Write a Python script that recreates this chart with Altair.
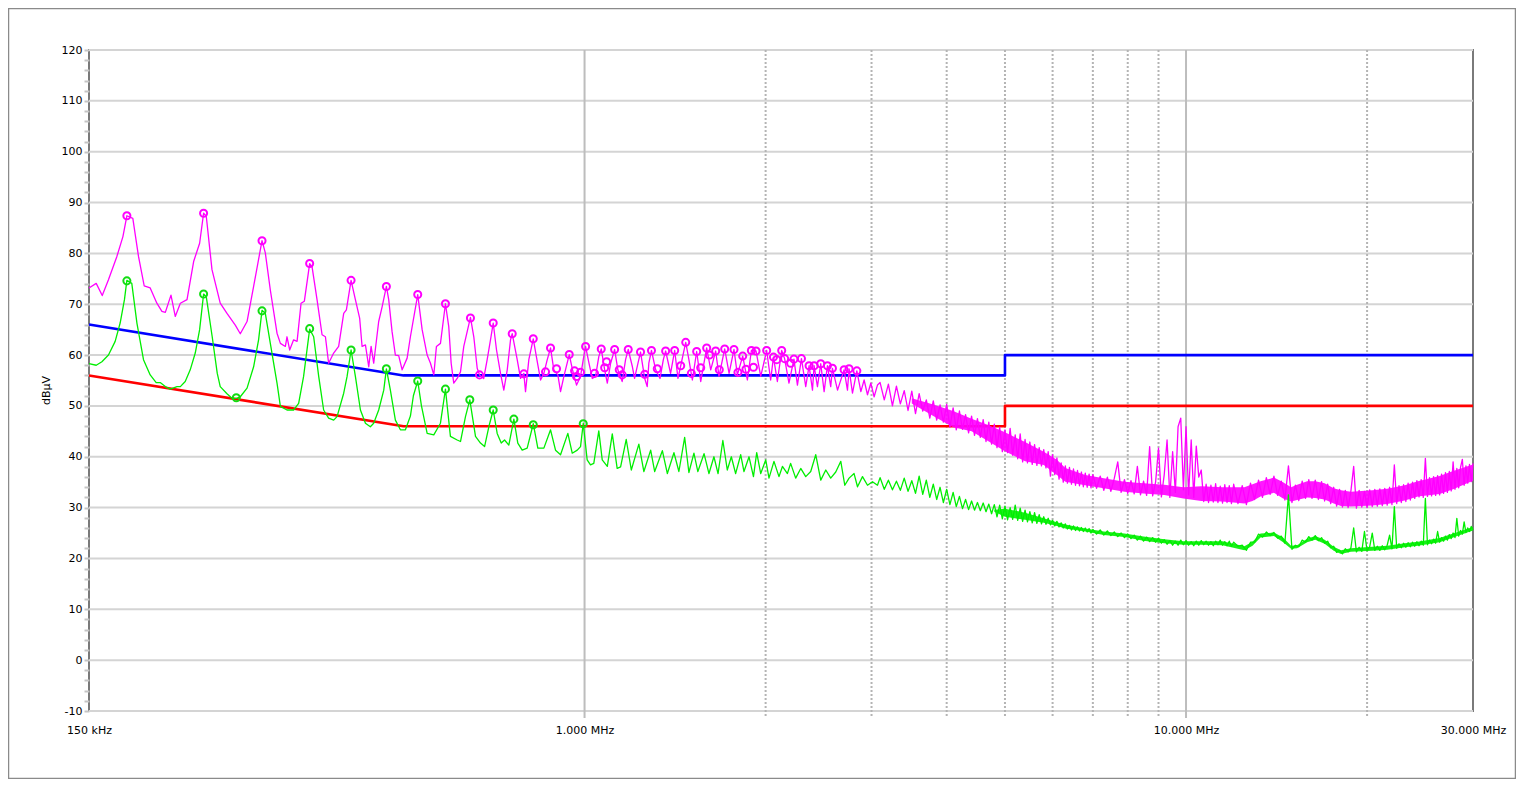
import altair as alt
import pandas as pd

# ---------------- data ----------------
# peak (magenta) trace, 150 kHz .. 3.1 MHz, frequency in MHz
pk_lo_f = [0.150, 0.1542, 0.1578, 0.1616, 0.1669, 0.1708, 0.1734, 0.1774, 0.1813, 0.1853,
           0.1896, 0.1945, 0.1983, 0.2009, 0.2053, 0.2087, 0.2128, 0.2183, 0.2239, 0.2291,
           0.2326, 0.2350, 0.2402, 0.2479, 0.2544, 0.2626, 0.2677, 0.2747, 0.2817, 0.2909,
           0.2946, 0.3003, 0.3081, 0.3121, 0.3181, 0.3201, 0.3234, 0.3283, 0.3327, 0.3378,
           0.3421, 0.3491, 0.3523, 0.3591, 0.3661, 0.3708, 0.3754, 0.3827, 0.3901, 0.3977,
           0.4018, 0.4091, 0.4159, 0.4228, 0.4267, 0.4322, 0.4377, 0.4417, 0.4461, 0.4547,
           0.4607, 0.4683, 0.4725, 0.4786, 0.4847, 0.4909, 0.4974, 0.5070, 0.5134, 0.5280,
           0.5370, 0.5474, 0.5544, 0.5615, 0.5672, 0.5760, 0.5871, 0.5946, 0.6001, 0.6061,
           0.6141, 0.6219, 0.6298, 0.6461, 0.6544, 0.6630, 0.6689, 0.6798, 0.6888, 0.6976,
           0.7049, 0.7139, 0.7249, 0.7341, 0.7438, 0.7532, 0.7581, 0.7727, 0.7826, 0.7926,
           0.7977, 0.8079, 0.8217, 0.8344, 0.8450, 0.8558, 0.8669, 0.8779, 0.8890, 0.9028,
           0.9122, 0.9239, 0.9431, 0.9550, 0.9698, 0.9847, 0.9950, 1.004, 1.017, 1.030,
           1.043, 1.056, 1.066, 1.080, 1.091, 1.105, 1.122, 1.136, 1.155, 1.170,
           1.182, 1.201, 1.211, 1.227, 1.239, 1.259, 1.271, 1.279, 1.292, 1.313,
           1.335, 1.352, 1.364, 1.390, 1.412, 1.430, 1.445, 1.473, 1.491, 1.511,
           1.536, 1.560, 1.596, 1.621, 1.652, 1.673, 1.710, 1.739, 1.772, 1.795,
           1.832, 1.865, 1.894, 1.928, 1.963, 2.008, 2.039, 2.061, 2.092, 2.127,
           2.151, 2.187, 2.229, 2.259, 2.294, 2.332, 2.362, 2.393, 2.408, 2.439,
           2.470, 2.502, 2.534, 2.566, 2.583, 2.634, 2.701, 2.736, 2.753, 2.789,
           2.836, 2.880, 2.916, 2.954, 2.992, 3.030, 3.069]
pk_lo_v = [73.2, 74.1, 71.7, 74.8, 79.4, 83.3, 87.4, 86.9, 79.4, 73.6,
           73.2, 70.2, 68.6, 68.4, 71.8, 67.6, 70.2, 70.9, 78.4, 82.0,
           87.9, 87.3, 76.8, 70.2, 68.2, 65.9, 64.2, 66.6, 73.5, 82.5,
           80.1, 72.8, 64.3, 62.3, 61.7, 63.6, 61.0, 63.0, 62.7, 70.2,
           70.6, 78.0, 77.4, 70.9, 64.0, 63.6, 58.4, 60.4, 61.7, 68.2,
           68.9, 74.7, 70.9, 67.2, 61.7, 62.0, 57.7, 61.7, 58.4, 66.6,
           69.5, 73.5, 70.9, 64.6, 60.0, 59.9, 57.1, 59.4, 63.6, 71.9,
           65.0, 60.0, 58.4, 56.1, 61.7, 62.3, 70.1, 65.6, 58.4, 54.5,
           55.4, 56.7, 61.7, 67.4, 63.6, 57.4, 56.1, 55.4, 59.1, 63.0,
           66.3, 61.0, 56.4, 53.1, 57.1, 63.0, 64.2, 59.1, 55.4, 56.4,
           52.8, 59.1, 63.2, 58.7, 55.1, 56.4, 59.1, 61.4, 57.1, 56.1,
           52.8, 55.8, 60.1, 57.1, 54.1, 55.8, 59.1, 61.7, 58.4, 55.4,
           55.8, 59.7, 61.2, 57.1, 54.5, 58.4, 61.1, 57.1, 54.8, 59.1,
           61.1, 57.7, 55.4, 58.4, 60.6, 55.4, 53.8, 58.4, 60.9, 57.1,
           55.4, 59.1, 60.8, 56.4, 60.9, 55.4, 57.9, 62.5, 59.1, 55.1,
           60.7, 54.8, 61.4, 57.1, 60.8, 55.8, 61.2, 56.4, 61.1, 56.1,
           59.8, 55.1, 60.9, 60.8, 55.8, 60.9, 55.1, 59.6, 54.8, 60.9,
           59.3, 54.5, 59.2, 54.1, 59.3, 53.8, 57.9, 53.1, 57.9, 53.8,
           58.3, 52.8, 57.9, 53.8, 57.4, 53.1, 57.1, 53.1, 57.3, 52.5,
           56.9, 52.8, 55.1, 52.2, 54.5, 51.8, 54.1]

# average (green) trace, 150 kHz .. 3.1 MHz
av_lo_f = [0.150, 0.1542, 0.1576, 0.1616, 0.1658, 0.1690, 0.1718, 0.1734, 0.1767, 0.1802,
           0.1848, 0.1896, 0.1940, 0.1970, 0.2009, 0.2047, 0.2101, 0.2128, 0.2168, 0.2210,
           0.2253, 0.2291, 0.2326, 0.2350, 0.2404, 0.2451, 0.2479, 0.2544, 0.2593, 0.2636,
           0.2677, 0.2747, 0.2817, 0.2871, 0.2909, 0.2946, 0.3003, 0.3081, 0.3121, 0.3201,
           0.3283, 0.3347, 0.3411, 0.3491, 0.3545, 0.3614, 0.3683, 0.3754, 0.3827, 0.3877,
           0.3977, 0.4029, 0.4091, 0.4159, 0.4240, 0.4322, 0.4404, 0.4461, 0.4547, 0.4636,
           0.4683, 0.4755, 0.4847, 0.4941, 0.5037, 0.5134, 0.5193, 0.5280, 0.5356, 0.5474,
           0.5615, 0.5760, 0.5871, 0.5984, 0.6141, 0.6219, 0.6339, 0.6445, 0.6587, 0.6714,
           0.6820, 0.6932, 0.7049, 0.7157, 0.7269, 0.7362, 0.7483, 0.7629, 0.7745, 0.7876,
           0.8028, 0.8217, 0.8362, 0.8558, 0.8779, 0.8948, 0.9122, 0.9380, 0.9539, 0.9725,
           0.9847, 0.9950, 1.010, 1.023, 1.036, 1.056, 1.070, 1.091, 1.112, 1.133,
           1.148, 1.173, 1.196, 1.231, 1.255, 1.288, 1.308, 1.347, 1.373, 1.408,
           1.435, 1.467, 1.491, 1.520, 1.543, 1.580, 1.610, 1.641, 1.667, 1.698,
           1.727, 1.754, 1.783, 1.818, 1.841, 1.877, 1.909, 1.933, 1.963, 2.001,
           2.026, 2.065, 2.105, 2.133, 2.174, 2.201, 2.244, 2.288, 2.332, 2.377,
           2.423, 2.470, 2.518, 2.566, 2.616, 2.667, 2.708, 2.753, 2.806, 2.843,
           2.898, 2.954, 3.011, 3.069]
av_lo_v = [58.3, 58.0, 58.7, 60.0, 62.7, 66.3, 70.9, 74.7, 74.1, 66.3,
           59.1, 56.1, 54.6, 54.6, 53.8, 53.3, 53.8, 53.8, 54.8, 57.1,
           60.4, 65.0, 72.0, 71.5, 63.6, 56.4, 53.8, 52.4, 51.5, 51.5,
           51.8, 53.5, 57.7, 63.0, 68.8, 68.2, 62.3, 54.5, 49.9, 49.2,
           49.2, 50.5, 55.8, 65.1, 63.6, 55.8, 49.2, 47.6, 47.2, 47.9,
           52.5, 55.8, 61.0, 55.8, 49.2, 46.6, 45.9, 46.6, 49.2, 53.1,
           57.3, 53.1, 47.2, 45.3, 45.3, 48.0, 52.0, 54.9, 50.0, 44.6,
           44.3, 46.6, 53.3, 44.0, 43.3, 43.0, 47.9, 51.2, 44.0, 42.7,
           42.0, 45.9, 49.2, 44.6, 42.7, 43.3, 42.3, 47.4, 42.7, 41.3,
           41.7, 46.5, 41.7, 41.7, 45.3, 41.3, 40.4, 44.6, 40.7, 41.3,
           42.0, 46.6, 39.4, 38.4, 38.7, 45.1, 39.4, 38.1, 44.5, 37.7,
           38.0, 43.4, 37.4, 42.5, 37.1, 41.3, 37.1, 41.2, 36.7, 40.8,
           37.1, 43.8, 36.9, 40.7, 37.1, 40.6, 36.7, 40.0, 36.7, 43.2,
           37.4, 40.0, 36.7, 40.4, 37.1, 40.0, 36.1, 40.8, 36.7, 39.4,
           35.8, 39.1, 36.1, 38.1, 36.7, 38.7, 35.8, 37.7, 36.1, 37.1,
           40.4, 35.4, 37.4, 35.8, 37.0, 39.1, 34.4, 35.8, 36.7, 34.1,
           36.1, 34.4, 35.1, 34.4]

# common sweep points 3.1 .. 30 MHz for both traces
hi_f = [3.10, 3.15, 3.20, 3.25, 3.30, 3.35, 3.40, 3.45, 3.50, 3.55,
        3.60, 3.65, 3.70, 3.75, 3.80, 3.85, 3.90, 3.95, 4.00, 4.05,
        4.10, 4.15, 4.20, 4.25, 4.30, 4.35, 4.40, 4.45, 4.50, 4.55,
        4.60, 4.65, 4.70, 4.75, 4.80, 4.85, 4.90, 4.95, 5.00, 5.05,
        5.10, 5.15, 5.20, 5.25, 5.30, 5.35, 5.40, 5.45, 5.50, 5.55,
        5.60, 5.65, 5.70, 5.75, 5.80, 5.85, 5.90, 5.95, 6.00, 6.05,
        6.10, 6.15, 6.20, 6.25, 6.30, 6.35, 6.40, 6.45, 6.50, 6.55,
        6.60, 6.65, 6.70, 6.75, 6.80, 6.85, 6.90, 6.95, 7.00,
        7.1, 7.2, 7.3, 7.4, 7.5, 7.6, 7.7, 7.8, 7.9, 8.0,
        8.1, 8.2, 8.3, 8.4, 8.5, 8.6, 8.7, 8.8, 8.9, 9.0,
        9.1, 9.2, 9.3, 9.4, 9.5, 9.6, 9.7, 9.8, 9.9, 10.0,
        10.1, 10.2, 10.3, 10.4, 10.5, 10.6, 10.7, 10.8, 10.9, 11.0,
        11.1, 11.2, 11.3, 11.4, 11.5, 11.6, 11.7, 11.8, 11.9, 12.0,
        12.2, 12.4, 12.6, 12.8, 13.0, 13.2, 13.4, 13.6, 13.8, 14.0,
        14.2, 14.4, 14.6, 14.8, 15.0, 15.2, 15.4, 15.6, 15.8, 16.0,
        16.2, 16.4, 16.6, 16.8, 17.0, 17.2, 17.4, 17.6, 17.8, 18.0,
        18.2, 18.4, 18.6, 18.8, 19.0, 19.2, 19.4, 19.6, 19.8, 20.0,
        20.2, 20.4, 20.6, 20.8, 21.0, 21.2, 21.4, 21.6, 21.8, 22.0,
        22.2, 22.4, 22.6, 22.8, 23.0, 23.2, 23.4, 23.6, 23.8, 24.0,
        24.2, 24.4, 24.6, 24.8, 25.0, 25.2, 25.4, 25.6, 25.8, 26.0,
        26.2, 26.4, 26.6, 26.8, 27.0, 27.2, 27.4, 27.6, 27.8, 28.0,
        28.2, 28.4, 28.6, 28.8, 29.0, 29.2, 29.4, 29.6, 29.8, 30.0]
pk_hi_v = [54.6, 51.2, 54.3, 50.0, 53.9, 50.4, 53.0, 49.1, 52.9, 48.5,
           52.4, 49.0, 51.2, 47.6, 51.0, 47.2, 50.2, 46.8, 50.3, 45.8,
           49.6, 45.3, 49.0, 45.4, 48.3, 44.7, 48.0, 44.2, 47.5, 43.8,
           47.3, 43.0, 46.8, 42.5, 46.4, 41.8, 45.8, 41.0, 45.3, 40.8,
           45.6, 40.3, 44.3, 39.6, 44.5, 39.0, 43.4, 38.8, 42.9, 38.5,
           42.4, 38.3, 41.8, 38.2, 41.4, 37.8, 41.0, 36.2, 40.4, 36.5,
           39.8, 35.6, 38.8, 35.0, 38.2, 34.8, 37.9, 34.6, 37.6, 34.4,
           37.3, 34.3, 37.0, 34.1, 36.8, 34.0, 36.6, 33.9, 36.5,
           33.8, 36.2, 33.4, 36.0, 33.2, 35.8, 39.0, 33.0, 35.5, 32.8,
           35.3, 32.7, 38.1, 32.5, 35.2, 32.4, 42.0, 32.3, 35.0, 41.7,
           32.1, 36.5, 43.3, 32.0, 41.0, 33.0, 45.9, 47.6, 33.5, 45.9,
           32.5, 43.3, 32.0, 42.1, 36.0, 37.4, 31.2, 34.6, 31.0, 34.4,
           31.1, 34.7, 31.0, 34.2, 30.9, 34.5, 31.0, 34.3, 30.8, 34.6,
           30.8, 34.3, 30.6, 34.8, 31.6, 35.4, 32.0, 35.9, 32.6, 36.2,
           32.4, 35.2, 31.5, 38.2, 31.0, 34.4, 31.4, 35.2, 31.8, 35.5,
           31.8, 35.4, 31.6, 35.1, 31.3, 34.6, 30.8, 34.0, 30.3, 33.6,
           30.1, 33.4, 30.0, 33.3, 38.1, 29.9, 33.4, 30.1, 33.2, 30.0,
           33.5, 30.2, 33.6, 30.3, 33.7, 30.4, 33.8, 30.5, 34.0, 30.6,
           38.4, 30.8, 34.3, 31.0, 34.5, 31.2, 34.8, 31.5, 35.0, 31.8,
           35.3, 32.1, 35.5, 32.0, 39.7, 32.2, 35.9, 32.3, 36.1, 32.4,
           36.3, 32.5, 36.6, 32.8, 36.9, 33.0, 37.1, 33.3, 39.0, 33.6,
           37.7, 33.9, 37.9, 39.5, 34.4, 38.2, 34.8, 38.5, 35.1, 38.7]
av_hi_v = [35.9, 33.6, 35.4, 33.5, 35.2, 33.4, 35.8, 33.2, 35.3, 32.8,
           36.2, 32.6, 35.4, 32.0, 34.6, 31.6, 34.0, 31.0, 33.6, 30.6,
           33.0, 30.2, 32.2, 29.8, 31.6, 29.6, 31.3, 29.5, 31.0, 29.4,
           30.9, 29.2, 30.7, 28.8, 30.6, 28.2, 30.5, 27.8, 30.3, 27.6,
           30.0, 27.7, 30.5, 27.5, 29.9, 27.3, 29.5, 27.2, 29.2, 27.0,
           29.0, 26.9, 28.6, 26.8, 28.2, 26.7, 27.9, 26.6, 27.5, 26.4,
           27.3, 26.2, 27.0, 26.0, 26.8, 25.8, 26.5, 25.6, 26.4, 25.5,
           26.2, 25.4, 26.1, 25.3, 26.0, 25.2, 25.9, 25.0, 25.7,
           24.8, 25.6, 24.6, 25.4, 24.5, 25.2, 24.3, 25.0, 24.1, 24.8,
           23.9, 24.6, 23.6, 24.4, 23.4, 24.2, 23.3, 24.1, 23.2, 24.0,
           23.0, 23.7, 22.8, 23.5, 22.6, 23.4, 22.6, 23.6, 22.7, 23.5,
           22.6, 23.3, 22.5, 23.4, 22.6, 23.5, 22.7, 23.4, 22.6, 23.3,
           22.5, 23.4, 22.7, 23.6, 22.6, 23.3, 22.5, 23.4, 22.4, 23.2,
           22.4, 22.6, 21.6, 23.2, 23.2, 24.8, 24.2, 25.2, 24.5, 25.1,
           24.0, 24.4, 23.0, 32.5, 21.8, 22.6, 22.3, 23.6, 23.2, 24.3,
           23.6, 24.5, 23.5, 24.1, 23.0, 23.4, 22.1, 22.4, 21.2, 21.6,
           20.9, 21.9, 21.3, 22.1, 26.0, 21.3, 22.2, 21.4, 25.3, 21.5,
           22.3, 25.0, 21.6, 22.4, 21.6, 22.5, 21.7, 22.6, 24.6, 21.9,
           30.2, 22.0, 22.9, 22.1, 23.0, 22.2, 23.1, 22.3, 23.2, 22.4,
           23.3, 22.5, 23.4, 22.6, 31.8, 22.7, 23.6, 22.9, 23.8, 23.0,
           25.3, 23.2, 24.1, 23.4, 24.4, 23.6, 24.7, 23.9, 25.0, 24.1,
           27.9, 24.4, 25.5, 24.8, 27.2, 25.1, 26.0, 25.3, 26.3, 25.6]

# dense-noise bands (extent of the solid-looking trace band)
pk_band_f = [3.5, 3.8, 4.1, 4.4, 4.7, 5.0, 5.4, 5.8, 6.1, 6.3,
             6.8, 7.3, 7.9, 8.5, 9.2, 9.9, 10.6, 11.5, 12.5, 12.9,
             13.3, 14.0, 14.5, 14.95, 15.3, 15.9, 16.4, 17.0, 17.6, 18.1,
             18.8, 20.4, 21.6, 23.1, 24.3, 26.4, 27.8, 30.0]
pk_band_top = [51.5, 50.3, 49.0, 47.5, 46.2, 44.8, 42.9, 41.0, 39.4, 37.8,
               36.4, 35.8, 35.1, 34.8, 34.5, 34.0, 34.2, 34.0, 34.0, 34.6,
               35.2, 35.9, 35.0, 34.0, 34.5, 35.2, 35.2, 34.8, 33.8, 33.4,
               33.1, 33.4, 33.7, 34.4, 35.2, 36.2, 37.2, 38.5]
pk_band_bot = [50.5, 48.0, 45.8, 45.0, 43.0, 41.1, 39.1, 38.4, 36.4, 35.1,
               34.4, 33.8, 33.1, 32.8, 32.5, 31.8, 31.3, 31.2, 30.8, 31.3,
               32.2, 32.9, 31.8, 31.2, 31.5, 32.0, 31.9, 31.6, 30.8, 30.3,
               30.2, 30.4, 30.7, 31.4, 32.2, 32.7, 33.6, 35.3]
av_band_f = [4.8, 5.0, 5.4, 5.8, 6.1, 6.3, 6.8, 7.3, 7.9, 8.5,
             9.2, 9.9, 10.6, 11.5, 12.5, 12.9, 13.3, 14.0, 14.5, 14.95,
             15.3, 15.9, 16.4, 17.0, 17.6, 18.1, 18.8, 20.4, 21.6, 23.1,
             24.3, 26.4, 27.8, 30.0]
av_band_top = [29.6, 29.8, 29.0, 27.9, 27.1, 26.7, 25.9, 25.3, 24.9, 24.3,
               23.8, 23.4, 23.4, 23.4, 22.4, 23.3, 24.9, 25.1, 24.1, 22.5,
               22.6, 23.9, 24.4, 23.7, 22.3, 21.6, 22.0, 22.3, 22.5, 23.0,
               23.3, 24.0, 24.9, 26.2]
av_band_bot = [29.2, 28.2, 27.6, 27.0, 26.4, 25.9, 25.3, 24.6, 24.2, 23.5,
               23.0, 22.7, 22.7, 22.6, 21.6, 22.5, 24.1, 24.4, 23.2, 21.9,
               22.0, 23.2, 23.7, 22.9, 21.5, 20.9, 21.3, 21.5, 21.7, 22.2,
               22.5, 23.2, 24.1, 25.5]

# marker points
pk_mark_f = [0.1734, 0.2326, 0.2909, 0.3491, 0.4091, 0.4683, 0.5280, 0.5871, 0.6461, 0.7049,
             0.7581, 0.8217, 0.8779, 0.9431, 1.004, 0.6689, 0.7926, 0.8612, 0.8983, 0.9625,
             0.9698, 0.9847, 1.039, 1.066, 1.080, 1.088, 1.122, 1.142, 1.155, 1.182,
             1.239, 1.259, 1.292, 1.321, 1.364, 1.412, 1.445, 1.473, 1.505, 1.536,
             1.560, 1.596, 1.613, 1.652, 1.675, 1.710, 1.772, 1.799, 1.832, 1.855,
             1.894, 1.909, 1.928, 2.008, 2.061, 2.087, 2.127, 2.151, 2.201, 2.229,
             2.294, 2.362, 2.408, 2.470, 2.534, 2.583, 2.701, 2.753, 2.836]
pk_mark_v = [87.4, 87.9, 82.5, 78.0, 74.7, 73.5, 71.9, 70.1, 67.3, 66.3,
             64.2, 63.2, 61.4, 60.1, 61.7, 56.1, 56.3, 56.7, 57.3, 56.9,
             55.8, 56.6, 56.4, 61.2, 57.5, 58.7, 61.1, 57.1, 56.1, 61.1,
             60.6, 56.2, 60.9, 57.3, 60.8, 60.9, 57.9, 62.5, 56.4, 60.7,
             57.5, 61.4, 60.0, 60.8, 57.1, 61.2, 61.1, 56.6, 59.8, 57.2,
             60.9, 57.6, 60.8, 60.9, 59.6, 59.1, 60.9, 59.3, 58.4, 59.2,
             59.3, 57.9, 57.9, 58.3, 57.9, 57.4, 57.1, 57.3, 56.9]
av_mark_f = [0.1734, 0.2326, 0.2636, 0.2909, 0.3491, 0.4091, 0.4683, 0.5280, 0.5871, 0.6445,
             0.7049, 0.7629, 0.8217, 0.9950]
av_mark_v = [74.6, 72.0, 51.6, 68.7, 65.2, 61.0, 57.3, 54.9, 53.3, 51.2,
             49.2, 47.4, 46.3, 46.5]

# limit lines (QP / AV)
lim_f = [0.15, 0.5, 5.0, 5.0, 30.0]
qp_lim_v = [66, 56, 56, 60, 60]
av_lim_v = [56, 46, 46, 50, 50]

# axes / grid
y_grid = list(range(-10, 121, 10))
y_minor = list(range(-10, 121, 2))
x_grid_solid = [1, 10]
x_grid_dot = [2, 3, 4, 5, 6, 7, 8, 9, 20]
x_label_vals = [0.15, 1, 10, 30]
x_label_text = ["150 kHz", "1.000 MHz", "10.000 MHz", "30.000 MHz"]

# ---------------- chart ----------------
W, H = 1384, 661
FONT = "DejaVu Sans"
MAGENTA, GREEN = "#ff00ff", "#00ee00"


def series(fs, vs, name):
    return pd.DataFrame({"f": fs, "v": vs, "s": name, "i": range(len(fs))})


pk = series(pk_lo_f + hi_f, pk_lo_v + pk_hi_v, "pk")
av = series(av_lo_f + hi_f, av_lo_v + av_hi_v, "av")
qp = series(lim_f, qp_lim_v, "qp")
al = series(lim_f, av_lim_v, "al")
pk_band = pd.DataFrame({"f": pk_band_f, "v": pk_band_bot, "v2": pk_band_top})
av_band = pd.DataFrame({"f": av_band_f, "v": av_band_bot, "v2": av_band_top})

xexpr = " : ".join(
    f"abs(datum.value - {v}) < {v * 0.01} ? '{t}'" for v, t in zip(x_label_vals, x_label_text)
) + " : ''"

xs = alt.Scale(type="log", domain=[0.15, 30])
ys = alt.Scale(domain=[-10, 120], nice=False, zero=False)

X = alt.X("f:Q", scale=xs, title=None,
          axis=alt.Axis(values=x_label_vals, labelExpr=xexpr, ticks=False, domain=False,
                        grid=False, labelPadding=13, labelFont=FONT, labelFontSize=11,
                        labelColor="black", labelFlush=False, labelOverlap=False))
Y = alt.Y("v:Q", scale=ys, title="dBµV",
          axis=alt.Axis(values=y_minor,
                        labelExpr="datum.value % 10 == 0 ? '' + datum.value : ''",
                        tickColor="#c4c4c4", tickSize=5, tickWidth=2, domain=False,
                        grid=False, labelPadding=2, labelFont=FONT, labelFontSize=11,
                        labelColor="black", labelOverlap=False,
                        titleFont=FONT, titleFontSize=11, titleFontWeight="normal",
                        titleColor="black", titleX=-38, titleY=340))

hgrid = alt.Chart(pd.DataFrame({"v": y_grid})).mark_rule(
    color="#d4d4d4", strokeWidth=2).encode(y=Y, x=alt.value(0), x2=alt.value(W))
vsolid = alt.Chart(pd.DataFrame({"f": x_grid_solid})).mark_rule(
    color="#bdbdbd", strokeWidth=2).encode(x=X, y=alt.value(0), y2=alt.value(H + 7))
vdot = alt.Chart(pd.DataFrame({"f": x_grid_dot})).mark_rule(
    color="#b4b4b4", strokeWidth=2, strokeDash=[2, 2]).encode(
    x=X, y=alt.value(0), y2=alt.value(H + 7))


def line(df, color, width):
    return alt.Chart(df).mark_line(color=color, strokeWidth=width, strokeJoin="round").encode(
        x=X, y=Y, order=alt.Order("i:Q"))


def band(df, color):
    return alt.Chart(df).mark_area(color=color, opacity=0.9).encode(
        x=X, y=Y, y2="v2:Q")


qp_line = line(qp, "#0000ff", 2.6)
al_line = line(al, "#ff0000", 2.6)
pk_area = band(pk_band, MAGENTA)
av_area = band(av_band, GREEN)
pk_line = line(pk, MAGENTA, 1.3)
av_line = line(av, GREEN, 1.3)

pk_pts = alt.Chart(pd.DataFrame({"f": pk_mark_f, "v": pk_mark_v})).mark_point(
    shape="circle", filled=False, size=50, strokeWidth=2, color=MAGENTA, opacity=1).encode(x=X, y=Y)
av_pts = alt.Chart(pd.DataFrame({"f": av_mark_f, "v": av_mark_v})).mark_point(
    shape="circle", filled=False, size=50, strokeWidth=2, color="#11dd11", opacity=1).encode(x=X, y=Y)

frame = alt.Chart(pd.DataFrame({"k": [0]})).mark_rect(
    filled=False, color="#8a8a8a", strokeWidth=1.5).encode(
    x=alt.value(-80.5), x2=alt.value(1426.5), y=alt.value(-41.5), y2=alt.value(728.5))

chart = alt.layer(
    hgrid, vsolid, vdot, qp_line, al_line, pk_area, av_area, pk_line, av_line,
    pk_pts, av_pts, frame
).properties(
    width=W, height=H,
    autosize=alt.AutoSizeParams(type="none"),
    padding={"left": 81, "top": 42, "right": 43, "bottom": 68},
    background="white",
).configure_view(stroke="#7a7a7a", strokeWidth=2)

chart.save("out.html", embed_options={"renderer": "svg", "actions": False})
